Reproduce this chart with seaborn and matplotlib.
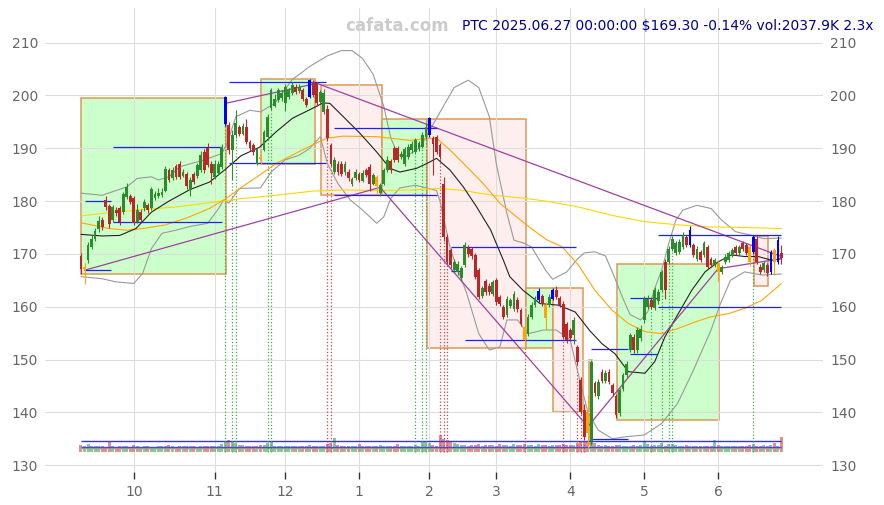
import matplotlib
matplotlib.use("Agg")

import numpy as np
import matplotlib.pyplot as plt
import seaborn as sns
from matplotlib.patches import Rectangle

# ===============================
# daily candles (trading-day index 0..199, 2024-09-10 .. 2025-06-27)
# ===============================
opens = [169.6, 167.2, 168.8, 171.4, 172.9, 174.8, 176.5, 180.2, 179.0, 176.4,
         178.4, 178.6, 178.0, 180.8, 180.9, 180.6, 176.1, 178.0, 178.6, 179.2,
         178.6, 180.6, 181.0, 181.2, 182.0, 185.9, 184.3, 186.6, 187.1, 184.8,
         185.2, 182.1, 185.1, 184.7, 185.9, 189.3, 190.0, 187.0, 184.6, 185.4,
         186.5, 194.6, 194.4, 189.7, 192.5, 194.0, 192.8, 194.1, 191.2, 190.6,
         187.1, 188.4, 189.7, 192.2, 197.6, 198.1, 199.1, 199.5, 198.5, 199.8,
         200.4, 201.7, 200.8, 201.0, 199.4, 199.7, 202.6, 202.3, 198.8, 196.9,
         197.5, 190.6, 185.5, 187.1, 187.1, 185.5, 185.5, 183.3, 184.3, 185.2,
         183.9, 185.8, 186.5, 183.3, 184.6, 181.5, 183.3, 185.9, 187.5, 190.0,
         190.0, 188.3, 187.0, 188.4, 189.6, 189.3, 189.8, 190.3, 192.2, 192.5,
         191.9, 192.2, 190.6, 183.3, 173.2, 170.7, 166.9, 166.6, 165.5, 167.9,
         171.2, 170.9, 169.8, 166.9, 162.0, 164.8, 163.9, 162.5, 165.0, 161.9,
         160.0, 158.5, 160.2, 159.5, 161.3, 159.4, 156.2, 154.9, 158.0, 160.4,
         161.2, 162.0, 160.3, 160.3, 161.5, 163.2, 161.6, 160.6, 156.8, 155.6,
         154.6, 152.4, 146.1, 140.4, 140.0, 134.6, 145.5, 143.0, 147.7, 146.0,
         147.7, 145.1, 143.0, 139.8, 144.5, 147.0, 151.8, 154.3, 151.8, 154.0,
         157.5, 160.0, 161.2, 159.7, 161.0, 163.1, 168.5, 168.5, 171.0, 170.1,
         170.4, 171.3, 173.2, 171.7, 171.7, 169.1, 170.4, 169.8, 171.3, 169.1,
         167.9, 168.2, 166.6, 168.5, 168.8, 169.8, 171.3, 170.1, 172.0, 171.7,
         171.3, 170.4, 172.9, 167.6, 166.9, 167.9, 166.6, 170.7, 168.5, 170.1]
closes = [167.1, 167.5, 171.6, 172.9, 174.3, 176.3, 175.1, 178.9, 175.6, 178.8,
          177.7, 176.1, 181.3, 182.7, 179.9, 175.9, 178.3, 176.5, 179.9, 178.3,
          182.2, 181.4, 181.6, 181.8, 186.0, 184.0, 185.9, 184.5, 184.6, 185.6,
          182.8, 184.0, 183.7, 186.8, 188.7, 185.9, 186.8, 185.4, 187.1, 187.0,
          190.3, 199.7, 189.7, 192.5, 194.7, 192.8, 194.3, 191.2, 190.0, 189.3,
          189.8, 188.0, 193.1, 196.0, 201.0, 199.4, 201.0, 200.5, 201.7, 201.0,
          202.0, 200.6, 201.6, 199.4, 198.2, 202.9, 200.1, 198.5, 200.6, 200.4,
          191.9, 187.1, 187.8, 185.5, 185.2, 187.1, 184.3, 184.2, 185.5, 184.0,
          185.3, 184.9, 183.3, 184.9, 182.8, 183.0, 185.8, 187.8, 185.9, 187.8,
          187.8, 189.0, 189.8, 190.3, 190.8, 191.5, 191.0, 192.5, 194.1, 195.7,
          190.9, 189.3, 188.4, 173.2, 168.5, 167.9, 168.5, 168.1, 167.3, 171.7,
          170.0, 169.6, 165.7, 161.9, 163.5, 162.8, 162.8, 164.6, 160.9, 160.6,
          158.1, 161.5, 161.2, 162.4, 159.5, 156.8, 153.7, 158.1, 160.3, 161.6,
          163.0, 160.6, 157.8, 161.9, 163.1, 161.9, 160.3, 154.3, 153.7, 154.0,
          157.5, 149.6, 140.1, 135.4, 136.0, 149.6, 143.6, 145.8, 146.0, 147.5,
          145.8, 143.6, 139.5, 144.2, 147.0, 149.2, 154.6, 151.8, 155.6, 155.8,
          161.5, 161.5, 160.0, 163.1, 162.8, 166.5, 163.1, 171.0, 172.9, 172.0,
          172.3, 173.6, 171.7, 174.5, 169.8, 171.0, 168.8, 172.0, 167.6, 167.9,
          168.8, 166.6, 167.5, 169.5, 170.1, 170.7, 170.1, 171.3, 171.0, 170.1,
          168.5, 173.2, 168.5, 166.6, 168.2, 166.3, 170.4, 168.5, 172.6, 169.3]
highs = [170.2, 168.2, 172.2, 173.6, 175.0, 177.2, 177.0, 181.0, 179.5, 179.3,
         178.9, 179.0, 181.8, 183.4, 181.4, 181.0, 179.4, 178.5, 180.4, 179.7,
         182.6, 182.0, 182.5, 182.4, 186.6, 186.3, 186.4, 187.0, 187.6, 186.0,
         185.6, 184.6, 185.6, 187.3, 189.4, 189.8, 191.0, 187.5, 187.7, 187.6,
         190.8, 199.9, 195.0, 193.5, 197.3, 194.5, 194.8, 195.5, 191.5, 191.0,
         190.1, 188.8, 193.5, 196.5, 201.5, 200.2, 201.4, 201.0, 202.2, 201.5,
         202.6, 202.2, 202.1, 201.4, 199.8, 203.1, 202.9, 202.6, 201.0, 201.3,
         198.2, 191.0, 188.3, 187.6, 187.5, 187.6, 186.0, 184.6, 186.0, 185.6,
         185.8, 186.3, 187.0, 185.3, 185.0, 183.4, 186.2, 188.6, 188.0, 190.5,
         190.4, 189.5, 190.3, 190.8, 191.3, 192.0, 191.4, 193.0, 194.6, 196.0,
         192.3, 192.6, 191.0, 184.5, 173.8, 171.2, 169.0, 168.6, 167.8, 172.3,
         171.6, 171.3, 170.2, 167.3, 164.0, 165.3, 164.4, 165.0, 165.5, 162.3,
         160.4, 162.0, 161.7, 163.0, 161.8, 159.8, 156.6, 158.6, 160.8, 162.1,
         163.5, 162.5, 160.8, 162.4, 163.6, 164.0, 162.0, 161.0, 157.2, 156.0,
         158.0, 152.8, 146.6, 141.5, 143.3, 150.0, 146.0, 146.3, 148.2, 148.0,
         148.2, 145.6, 143.4, 144.7, 147.5, 149.7, 155.1, 154.8, 156.1, 156.5,
         162.0, 162.3, 161.6, 163.8, 163.3, 167.0, 169.0, 171.5, 173.4, 172.5,
         172.8, 174.1, 173.6, 175.3, 172.1, 171.5, 170.8, 172.5, 171.7, 169.5,
         169.2, 168.6, 167.9, 170.0, 170.6, 171.1, 171.7, 171.7, 172.4, 172.1,
         171.7, 173.6, 173.3, 168.0, 168.6, 168.3, 170.8, 171.1, 173.4, 171.7]
lows = [166.2, 164.3, 168.3, 170.9, 172.4, 174.2, 174.6, 178.4, 175.0, 176.0,
        177.2, 175.5, 177.6, 180.4, 179.4, 175.4, 175.8, 176.0, 178.2, 177.8,
        178.3, 180.2, 180.6, 180.8, 181.7, 183.6, 184.0, 184.1, 184.2, 184.5,
        182.3, 181.0, 183.2, 184.4, 185.6, 185.4, 186.4, 183.2, 184.2, 185.0,
        186.1, 194.3, 189.0, 184.0, 192.0, 192.3, 192.5, 190.8, 189.5, 188.8,
        186.8, 187.0, 189.4, 191.8, 197.2, 197.8, 198.8, 199.0, 197.0, 199.4,
        200.0, 200.2, 200.4, 199.0, 197.8, 199.5, 199.8, 198.0, 198.3, 196.5,
        191.4, 186.6, 185.2, 185.0, 184.8, 185.0, 183.9, 182.9, 184.0, 183.6,
        183.6, 184.5, 182.0, 183.0, 181.3, 181.0, 183.0, 185.6, 185.4, 187.4,
        187.4, 187.9, 186.7, 188.0, 189.2, 189.0, 189.4, 190.0, 191.8, 192.2,
        185.0, 188.9, 188.0, 172.5, 168.0, 167.4, 166.3, 166.0, 164.8, 167.5,
        169.5, 169.1, 165.2, 161.4, 161.6, 162.3, 162.3, 162.1, 160.4, 160.1,
        157.6, 158.1, 159.8, 159.1, 159.0, 156.3, 152.2, 154.5, 157.6, 160.0,
        160.9, 160.2, 155.5, 160.0, 161.2, 161.5, 159.9, 153.9, 153.2, 153.5,
        153.0, 149.0, 139.6, 134.8, 133.2, 133.8, 143.0, 142.5, 145.5, 145.6,
        145.3, 143.1, 139.0, 139.4, 144.1, 146.6, 151.4, 151.3, 151.3, 153.6,
        157.0, 159.6, 159.5, 159.3, 160.6, 162.7, 161.5, 168.0, 170.6, 169.7,
        170.0, 170.9, 171.3, 171.3, 169.4, 168.7, 168.4, 169.4, 167.2, 167.5,
        167.5, 164.8, 166.2, 168.1, 168.4, 169.4, 169.7, 169.7, 170.6, 169.7,
        167.8, 170.0, 168.1, 166.2, 166.5, 165.9, 166.2, 166.0, 168.1, 168.0]
volumes = [950, 900, 1100, 850, 800, 900, 850, 700, 1600, 800,
           750, 850, 900, 800, 700, 950, 800, 750, 850, 800,
           700, 750, 800, 850, 900, 1000, 800, 750, 850, 800,
           900, 850, 800, 750, 900, 850, 800, 900, 850, 800,
           1100, 1600, 1700, 1500, 1300, 1000, 950, 900, 850, 900,
           900, 950, 1000, 1300, 1600, 900, 850, 800, 900, 850,
           800, 850, 900, 850, 800, 1000, 850, 800, 900, 850,
           1150, 1200, 1900, 1000, 850, 800, 850, 800, 900, 1150,
           850, 800, 900, 850, 800, 950, 850, 800, 900, 850,
           1100, 850, 800, 900, 850, 1000, 900, 1450, 1500, 1200,
           1000, 900, 2400, 1800, 1700, 1400, 1200, 1100, 1000, 950,
           900, 1000, 950, 1050, 900, 1000, 950, 1000, 900, 1050,
           1000, 950, 900, 1050, 1000, 950, 1100, 1000, 950, 900,
           1100, 950, 1000, 900, 950, 1000, 950, 1100, 1000, 950,
           1000, 1200, 1400, 1500, 1600, 1700, 1200, 1000, 900, 950,
           900, 850, 950, 1000, 900, 850, 900, 950, 900, 1000,
           1600, 1100, 900, 1000, 950, 1200, 900, 1100, 1050, 1000,
           900, 850, 950, 900, 850, 800, 900, 850, 800, 900,
           1700, 950, 850, 900, 850, 800, 900, 850, 900, 850,
           950, 1100, 900, 850, 1000, 900, 950, 1300, 900, 2038]
blue_days = [41, 65, 99, 130, 134, 173, 191, 196, 198]
orange_days = [1, 51, 84, 126, 132, 144, 181, 190, 197]

month_pos = [15, 38, 58, 79, 99, 118, 139, 160, 181]
month_labels = ["10", "11", "12", "1", "2", "3", "4", "5", "6"]

# moving averages / bands (index, value)
ma20_i = [0, 6, 11, 15.6, 20, 25, 31, 36.5, 41, 45.5, 50.7, 55.4, 60.1, 65, 68.8,
          70.7, 74.5, 79.3, 84, 87.8, 90.6, 95.3, 98.2, 101, 104.8, 108.6, 112.4,
          116.4, 120, 121.8, 125.6, 130.4, 135.6, 140.4, 144.5, 148, 151.7, 155.5,
          160.2, 163, 165.9, 169.7, 173.5, 177.3, 181, 184.8, 188.6, 192.4, 196.2, 199]
ma20 = [173.7, 173.4, 173.5, 174.8, 177.9, 180.0, 182.2, 183.6, 186.0, 188.6, 190.2,
        193.1, 195.7, 197.3, 198.6, 198.5, 196.0, 192.8, 189.3, 186.2, 185.5, 186.2,
        187.1, 188.1, 185.9, 182.7, 178.9, 174.5, 168.8, 165.7, 163.1, 160.6, 160.3,
        159.0, 155.5, 153.0, 151.1, 147.7, 147.4, 149.6, 154.3, 158.7, 163.1, 166.6,
        168.5, 169.8, 169.5, 169.5, 168.8, 169.1]
ma60_i = [0, 8, 13, 17.5, 24, 30, 36.5, 41, 46, 50.7, 55.4, 60, 65, 69.8, 74.5, 84,
          93.5, 98.2, 101, 104.8, 109.6, 114.3, 119, 123.8, 128.5, 132.5, 136.6,
          141.3, 146, 150.8, 155.5, 160.2, 164.9, 169.7, 174.4, 179, 184, 188.6,
          193.4, 199]
ma60 = [175.9, 174.8, 174.5, 174.8, 175.5, 176.8, 178.6, 180.4, 182.8, 184.9, 187.1,
        188.7, 190.4, 191.9, 192.3, 192.2, 191.5, 191.9, 191.9, 189.7, 186.5, 183.3,
        179.6, 177.0, 174.5, 172.6, 171.4, 167.9, 163.1, 159.4, 156.8, 155.3, 154.9,
        155.9, 157.1, 158.1, 158.7, 159.7, 161.2, 164.4]
ma120_i = [0, 8, 17.5, 27, 36.5, 46, 55.4, 66, 74.5, 84, 93.5, 101, 107.6, 117,
           126.6, 133, 141.3, 150.8, 160.2, 169.7, 179, 188.6, 199]
ma120 = [177.2, 177.8, 178.4, 178.9, 179.7, 180.5, 181.1, 181.9, 182.1, 182.0, 182.1,
         182.4, 182.1, 181.1, 180.5, 179.9, 178.9, 177.3, 176.1, 175.5, 175.1, 175.0,
         174.8]
bb_up_i = [0, 6, 13, 16, 20, 22, 25, 28, 35, 40, 41.5, 44, 48, 51, 55, 60, 65, 70,
           74, 77, 80, 83, 86, 88, 90, 92, 96, 98, 100, 103, 106, 110, 113, 116, 118,
           121, 123, 126, 128, 132, 134, 138, 141, 143, 146, 149, 151, 154, 156, 159,
           161, 163, 165, 167, 169, 171, 175, 179, 182, 186, 190, 194, 199]
bb_up = [181.5, 181.1, 182.7, 184.3, 184.6, 184.0, 184.6, 186.5, 187.8, 189.0, 190.9,
         196.0, 197.2, 196.9, 198.5, 203.0, 205.5, 207.5, 208.5, 208.5, 207.0, 204.0,
         198.0, 192.0, 188.8, 188.3, 190.0, 192.0, 194.5, 198.0, 201.5, 202.9, 201.5,
         196.0, 187.0, 177.7, 172.6, 172.0, 171.3, 166.9, 165.2, 166.6, 169.0, 170.2,
         170.4, 169.6, 166.5, 161.5, 158.5, 157.5, 159.0, 163.5, 167.0, 172.0, 176.4,
         178.3, 179.2, 178.6, 176.4, 174.2, 173.6, 172.9, 173.0]
bb_lo_i = [0, 6, 10, 15, 17.5, 20, 23, 27, 31, 36, 39, 40.5, 42, 45, 51, 54, 58, 62,
           65, 68, 70, 73, 76.5, 80, 84, 86, 88, 90.6, 95, 98, 101, 102, 105, 109.6,
           113, 116, 119, 121, 124, 127, 131.5, 135, 139, 141, 144, 147, 151, 155,
           160, 165, 169.5, 174, 179, 181.5, 184.5, 188.5, 193.5, 199]
bb_lo = [165.7, 165.3, 164.7, 164.4, 166.3, 171.0, 173.9, 174.5, 175.2, 175.8, 178.5,
         180.2, 179.6, 182.4, 182.5, 185.5, 187.8, 188.7, 190.0, 192.2, 187.1, 183.3,
         180.2, 178.3, 175.8, 177.0, 180.5, 182.5, 183.0, 182.5, 182.0, 180.0, 170.7,
         162.5, 154.9, 151.8, 152.4, 157.5, 157.5, 154.9, 155.6, 155.6, 153.7, 148.0,
         140.0, 136.6, 135.0, 135.4, 135.7, 137.9, 141.7, 148.0, 155.6, 160.3, 165.0,
         166.6, 166.0, 166.2]

# trend boxes: start, end, top, bottom, up/down
box_x0 = [0, 51.1, 68.3, 85.4, 98.4, 126.3, 134.2, 144.3, 152.4, 191.3]
box_x1 = [41.2, 66.5, 85.4, 98.4, 126.3, 134.2, 142.5, 145.3, 181.3, 195.3]
box_top = [199.6, 203.2, 202.0, 195.5, 195.5, 163.5, 163.5, 149.9, 168.1, 173.4]
box_bot = [166.2, 187.1, 181.1, 181.1, 152.1, 152.1, 140.0, 134.0, 138.5, 164.0]
box_up = [True, True, False, True, False, True, False, True, True, False]

# support / resistance segments
seg_x0 = [1, 1, 9, 9, 42, 42, 72, 72, 105, 105, 109, 145, 145, 156, 156, 164, 164]
seg_x1 = [8.5, 8.5, 40, 40, 69.6, 69.6, 101, 101, 140.5, 108, 140.5, 155.3, 155.3,
          163.5, 163.5, 199, 199]
seg_y = [180.0, 166.9, 190.2, 176.0, 202.5, 187.3, 193.8, 181.2, 171.4, 166.7, 153.7,
         151.9, 134.9, 161.6, 151.0, 173.6, 159.9]

# trend lines
tl_x0 = [1, 85, 144, 181, 41, 67]
tl_y0 = [166.9, 182.6, 137.3, 167.2, 198.5, 202.3]
tl_x1 = [85, 144, 181, 199, 67, 199]
tl_y1 = [182.6, 137.3, 167.2, 169.1, 202.3, 169.5]

# signal days (dotted verticals)
buy_days = [41, 43, 44, 53, 54, 95, 97, 98, 162, 165, 167, 168, 191]
sell_days = [70, 71, 102, 103, 104, 126, 137, 141, 142, 143]

# volume reference levels
vol_lines_blue = [134.5, 133.5]
vol_line_gray = 133.2

title = "PTC 2025.06.27 00:00:00 $169.30 -0.14% vol:2037.9K 2.3x"

# ===============================
# style
# ===============================
sns.set_theme(style="whitegrid")
plt.rcParams['font.family'] = ['DejaVu Sans']

GREEN = "#2a8c2a"
RED = "#b82828"
BLUE = "#0000ff"
ORANGE = "#ffa500"

fig = plt.figure(figsize=(8.84, 5.05), dpi=100)
ax = fig.add_axes([0.051, 0.065, 0.880, 0.919])
ax.set_facecolor("white")

o = np.array(opens)
c = np.array(closes)
h = np.array(highs)
l = np.array(lows)
idx = np.arange(len(c))

cols = []
for i in idx:
    if i in blue_days:
        cols.append(BLUE)
    elif i in orange_days:
        cols.append(ORANGE)
    elif c[i] >= o[i]:
        cols.append(GREEN)
    else:
        cols.append(RED)

# boxes
for x0, x1, t, b, up in zip(box_x0, box_x1, box_top, box_bot, box_up):
    fc = "#ccffcc" if up else "#ffeeee"
    ax.add_patch(Rectangle((x0, b), x1 - x0, t - b, facecolor=fc,
                           edgecolor="#dd9955", lw=1.1, zorder=1))

# volume
vcols = ["#4caf50" if c[i] >= o[i] else "#d9534f" for i in idx]
vol_h = np.array(volumes) * 0.00135
ax.bar(idx, vol_h, bottom=132.5, width=0.85, color=vcols, alpha=0.65,
       linewidth=0, zorder=2.6)
ax.hlines(vol_lines_blue, 0, 199, color="#3333ff", lw=1.0, zorder=2.7)
ax.hlines(vol_line_gray, 0, 199, color="#999999", lw=1.0, zorder=2.7)

# signal verticals
ax.vlines(buy_days, 132.5, l[buy_days], colors="#44aa44", linestyles=":", lw=0.9, zorder=2.8)
ax.vlines(sell_days, 132.5, l[sell_days], colors="#cc4444", linestyles=":", lw=0.9, zorder=2.8)

# averages and bands
for xs, ys, col in [(bb_up_i, bb_up, "#999999"), (bb_lo_i, bb_lo, "#999999"),
                    (ma120_i, ma120, "#ffd700"), (ma60_i, ma60, "#ffa500"),
                    (ma20_i, ma20, "#222222")]:
    sns.lineplot(x=xs, y=ys, ax=ax, color=col, lw=0.8, zorder=3,
                 estimator=None, sort=False)

# trend lines
for x0, y0, x1, y1 in zip(tl_x0, tl_y0, tl_x1, tl_y1):
    ax.plot([x0, x1], [y0, y1], color="#a040a0", lw=0.9, zorder=3.2)

# support / resistance
ax.hlines(seg_y, seg_x0, seg_x1, color="#2020ff", lw=0.9, zorder=3.3)

# candles
ax.vlines(idx, l, h, colors=cols, lw=0.8, zorder=4)
body = np.maximum(np.abs(c - o), 0.15)
ax.bar(idx, body, bottom=np.minimum(o, c), width=0.8, color=cols,
       linewidth=0, zorder=5)

# axes
ax.set_xlim(-10.2, 210.8)
ax.set_ylim(128.67, 216.55)
ax.set_xticks(month_pos)
ax.set_xticklabels(month_labels)
ax.set_yticks(np.arange(130, 211, 10))
ax.grid(True, color="#dddddd", lw=0.8)
ax.set_axisbelow(False)
for s in ax.spines.values():
    s.set_visible(False)
ax.tick_params(axis="y", length=0, labelsize=10, labelcolor="#666666",
               labelleft=True, labelright=True, pad=5)
ax.tick_params(axis="x", length=5, width=1, color="#333333", labelsize=10,
               labelcolor="#666666", pad=4, bottom=True)
ax.set_xlabel("")
ax.set_ylabel("")

fig.text(0.449, 0.948, "cafata.com", ha="center", va="center", fontsize=12,
         fontweight="bold", color="#cccccc")
fig.text(0.9876, 0.948, title, ha="right", va="center", fontsize=10,
         color="#00008b")

plt.savefig("out.png", dpi=100)
plt.close()
